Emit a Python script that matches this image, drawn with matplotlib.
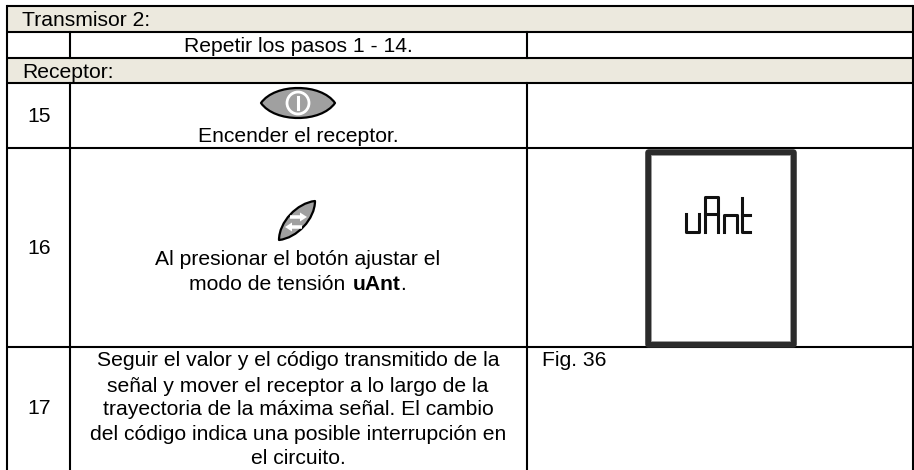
import matplotlib
matplotlib.use('Agg')
import matplotlib.pyplot as plt
from matplotlib.patches import Rectangle, PathPatch, Circle, FancyArrow
from matplotlib.path import Path

plt.rcParams['font.family'] = ['Liberation Sans', 'DejaVu Sans']

# Table grid, in picture pixels
left, col1, col2, right = 7, 70, 527, 913
row_lines = [6, 32, 58, 83, 147.5, 347, 470]
header_rows = [0, 2]

header_labels = ['Transmisor 2:', 'Receptor:']
header_y = [20.5, 73]
step_labels = ['15', '16', '17']
step_y = [117, 248, 409]
middle_lines = [
    ('Repetir los pasos 1 - 14.', 46.5),
    ('Encender el receptor.', 136.5),
    ('Al presionar el botón ajustar el', 259.5),
    ('Seguir el valor y el código transmitido de la', 361),
    ('señal y mover el receptor a lo largo de la', 386),
    ('trayectoria de la máxima señal. El cambio', 409.5),
    ('del código indica una posible interrupción en', 434),
    ('el circuito.', 458.5),
]

# LCD segments of the word on the display
lcd_segments = [
    [(686, 214), (686, 232), (699, 232), (699, 214)],
    [(705, 232), (705, 197), (718, 197), (718, 232)],
    [(705, 214), (718, 214)],
    [(724, 232), (724, 215), (737, 215), (737, 232)],
    [(742, 198), (742, 232), (750, 232)],
    [(742, 215), (750, 215)],
]

FONT = 15.2
LINE = 1.5
HEADER = '#ece9de'
GREY = '#a0a0a0'

fig = plt.figure(figsize=(9.14, 4.70), dpi=100)
ax = fig.add_axes([0, 0, 1, 1])
ax.set_xlim(0, 914)
ax.set_ylim(470, 0)
ax.axis('off')

# Header bands
for r in header_rows:
    ax.add_patch(Rectangle((left, row_lines[r]), right - left, row_lines[r + 1] - row_lines[r],
                           fc=HEADER, ec='none', zorder=0))

# Grid lines
for y in row_lines[:-1]:
    ax.plot([left, right], [y, y], color='black', lw=LINE, solid_capstyle='butt', zorder=2)
ax.plot([left, left], [row_lines[0], 470], color='black', lw=LINE, zorder=2)
ax.plot([right, right], [row_lines[0], 470], color='black', lw=LINE, zorder=2)
for x in [col1, col2]:
    ax.plot([x, x], [row_lines[1], row_lines[2]], color='black', lw=LINE, zorder=2)
    ax.plot([x, x], [row_lines[3], 470], color='black', lw=LINE, zorder=2)

# Text
for label, y in zip(header_labels, header_y):
    ax.text(22, y, label, fontsize=FONT, va='center', ha='left')
for label, y in zip(step_labels, step_y):
    ax.text(39, y, label, fontsize=FONT, va='center', ha='center')
for label, y in middle_lines:
    ax.text(298, y, label, fontsize=FONT, va='center', ha='center')
ax.text(189, 284.5, 'modo de tensión ', fontsize=FONT, va='center', ha='left')
ax.text(353, 284.5, 'uAnt', fontsize=FONT, va='center', ha='left', fontweight='bold')
ax.text(400, 284.5, '.', fontsize=FONT, va='center', ha='left')
ax.text(542, 361, 'Fig. 36', fontsize=FONT, va='center', ha='left')


def lens(tip0, c0, c1, tip1, c2, c3):
    # Two cubic arcs between the tips
    verts = [tip0, c0, c1, tip1, c2, c3, tip0, tip0]
    codes = [Path.MOVETO, Path.CURVE4, Path.CURVE4, Path.CURVE4,
             Path.CURVE4, Path.CURVE4, Path.CURVE4, Path.CLOSEPOLY]
    return PathPatch(Path(verts, codes), fc=GREY, ec='black', lw=1.6,
                     joinstyle='round', zorder=3)


# Power button
ax.add_patch(lens((261, 103), (275, 83), (321, 83), (335, 103), (321, 123), (275, 123)))
ax.add_patch(Circle((298, 103), 11, fc='none', ec='white', lw=2.0, zorder=4))
ax.plot([298, 298], [97, 109], color='white', lw=2.2, zorder=4)

# Rocker button
ax.add_patch(lens((279, 240), (279, 222), (297, 203), (315, 201), (315, 219), (297, 238)))
ax.add_patch(FancyArrow(290, 217, 17, 0, width=3.5, head_width=9, head_length=7,
                        length_includes_head=True, fc='white', ec='none', zorder=4))
ax.add_patch(FancyArrow(302, 227, -17, 0, width=3.5, head_width=9, head_length=7,
                        length_includes_head=True, fc='white', ec='none', zorder=4))

# LCD
ax.add_patch(Rectangle((647.5, 151.5), 145, 192, fc='white', ec='#2b2b2b', lw=4.7,
                       joinstyle='round', zorder=3))
ax.add_patch(Rectangle((650.5, 154.5), 139, 186, fc='none', ec='#a8a8a8', lw=0.6, zorder=4))
for seg in lcd_segments:
    ax.plot([p[0] for p in seg], [p[1] for p in seg], color='#111111', lw=2.2,
            solid_joinstyle='round', zorder=5)

fig.savefig('out.png', dpi=100)
